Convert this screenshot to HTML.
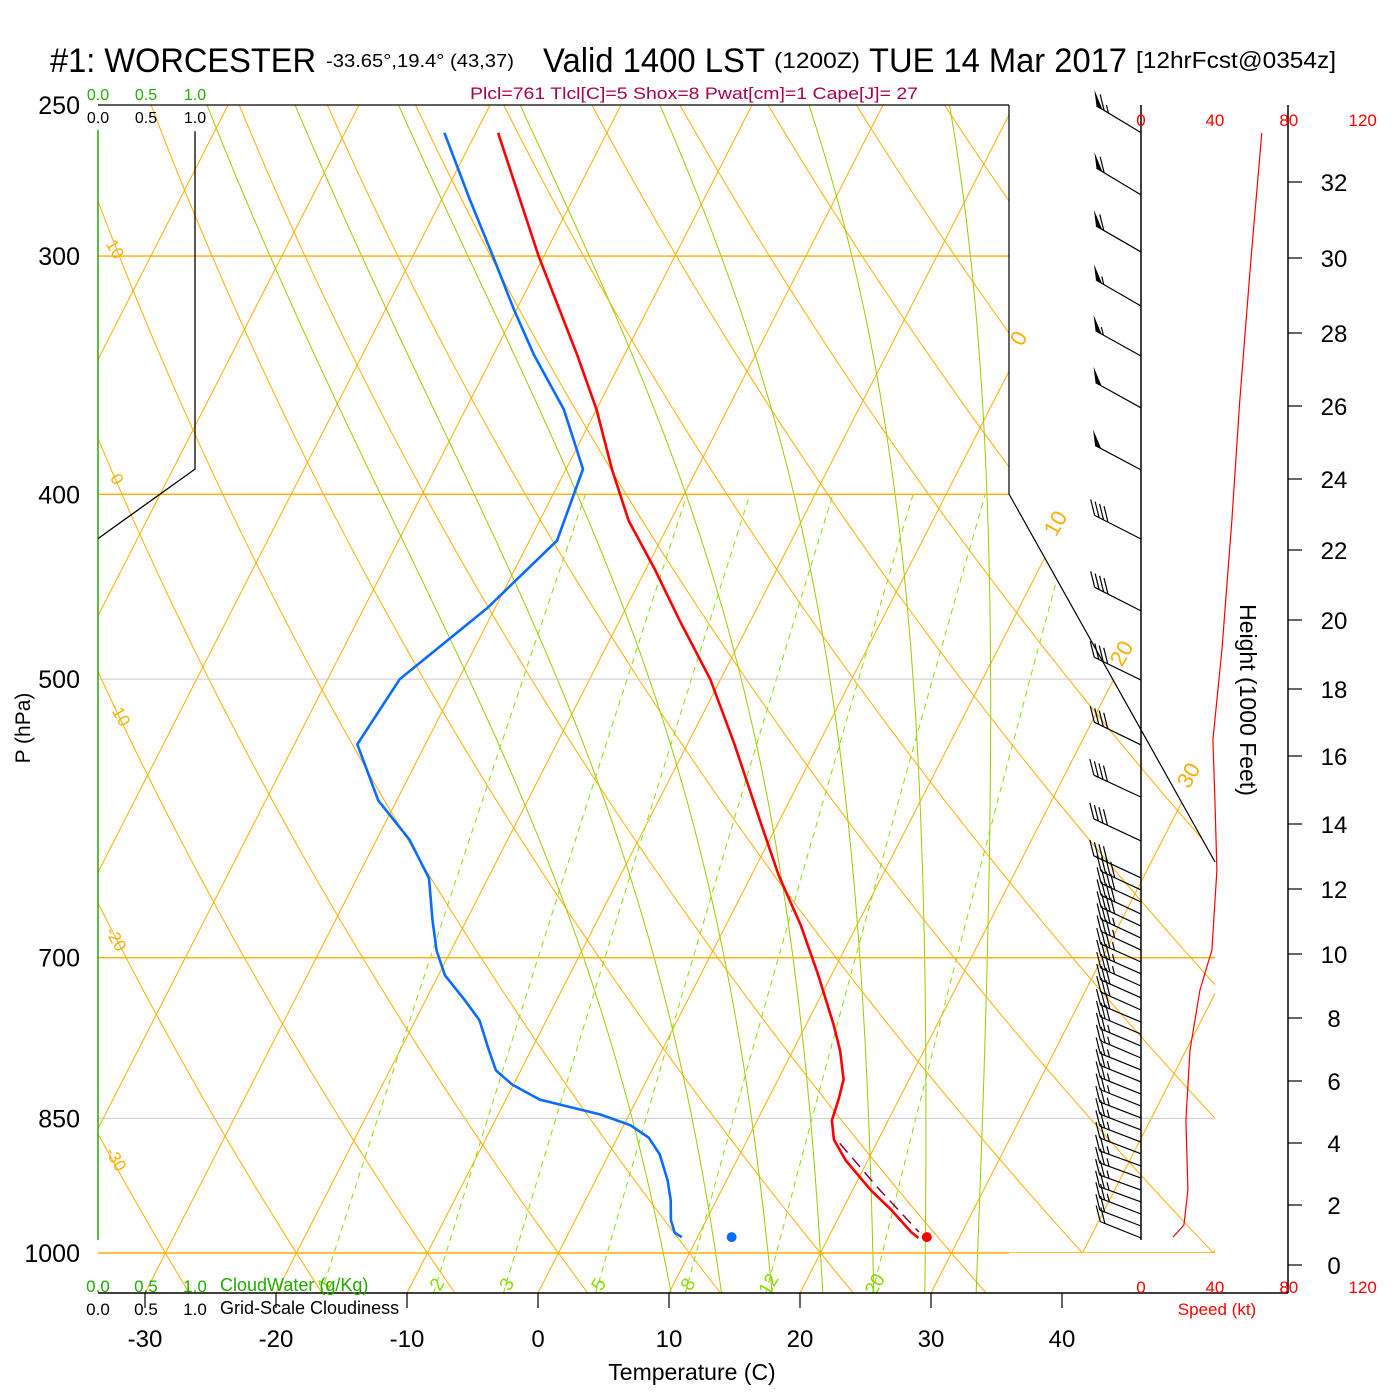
<!DOCTYPE html>
<html><head><meta charset="utf-8"><style>
html,body{margin:0;padding:0;background:#fff}
svg{display:block;font-family:"Liberation Sans",sans-serif}
</style></head><body>
<svg id="c" width="1400" height="1400" viewBox="0 0 1400 1400" xmlns="http://www.w3.org/2000/svg">
<defs><clipPath id="clp"><polygon points="98,105 1009,105 1009,494 1215,862 1215,1253 1009,1253 1009,1293 98,1293"/></clipPath></defs>
<g id="bg" clip-path="url(#clp)"></g>
<g id="fg"></g>
<g>
<text x="50" y="72" font-size="34" textLength="266" lengthAdjust="spacingAndGlyphs">#1: WORCESTER</text>
<text x="326" y="67" font-size="18" textLength="188" lengthAdjust="spacingAndGlyphs">-33.65°,19.4° (43,37)</text>
<text x="543" y="72" font-size="34" textLength="222" lengthAdjust="spacingAndGlyphs">Valid 1400 LST</text>
<text x="774" y="68" font-size="22" textLength="86" lengthAdjust="spacingAndGlyphs">(1200Z)</text>
<text x="869" y="72" font-size="34" textLength="258" lengthAdjust="spacingAndGlyphs">TUE 14 Mar 2017</text>
<text x="1136" y="68" font-size="23" textLength="200" lengthAdjust="spacingAndGlyphs">[12hrFcst@0354z]</text>
<text x="470" y="99" font-size="17" fill="#a8004a" textLength="448" lengthAdjust="spacingAndGlyphs">Plcl=761 Tlcl[C]=5 Shox=8 Pwat[cm]=1 Cape[J]= 27</text>
</g>
</svg>
<script>
// ---- data ----
const tempP = [258.5,300,338,361,388,413,438,466,500,541,593,634,673,715,759,783,811,831,852,872,894,927,949,975,982];
const tempC = [-48.3,-40.4,-33.6,-30.0,-26.5,-23.2,-19.3,-15.4,-10.8,-6.4,-1.5,2.1,5.7,9.0,12.1,13.6,15.0,15.4,15.7,16.6,18.3,21.4,23.7,26.1,26.9];
const dewP = [258.5,280,301,320,338,361,388,423,459,500,541,579,607,636,669,694,715,737,755,783,802,816,831,846,857,870,888,916,938,961,976,981];
const dewC = [-52.4,-47.9,-43.7,-40.2,-36.9,-32.5,-28.7,-27.9,-30.6,-34.5,-35.2,-31.4,-27.5,-24.5,-22.6,-21.1,-19.5,-17.0,-15.1,-13.2,-11.9,-10.1,-7.4,-2.2,0.5,2.4,3.9,5.5,6.5,7.3,8.1,8.8];
const parcelP = [876,927,975];
const parcelC = [17.2,22.1,26.7];
const sfcP = 981, sfcT = 27.5, sfcTd = 12.6;
const cloudP = [258,388,422];
const cloudF = [1,1,0];
const barbH = [33.3,31.66,30.16,28.72,27.37,25.95,24.25,22.31,20.26,18.26,16.33,14.79,13.48,12.34,11.97,11.60,11.23,10.86,10.49,10.12,9.75,9.38,9.0,8.63,8.25,7.87,7.49,7.11,6.73,6.35,5.97,5.58,5.19,4.81,4.42,4.03,3.65,3.26,2.87,2.48,2.10,1.70,1.30,0.90];
const barbSpd = [65,60,60,55,55,50,50,40,40,40,40,40,40,40,40,40,40,40,35,35,35,35,35,30,30,30,30,25,25,25,25,25,25,25,25,25,25,25,25,25,25,25,20,20];
const barbAng = [31,31,30,30,29,29,28,27,27,26,26,25,25,25,25,25,25,25,25,25,24,24,24,24,24,23,23,23,23,22,22,22,22,21,21,21,21,20,20,20,20,21,21,22];
const spdH = [33.29,29.95,26.16,22.85,19.13,16.48,14.71,12.58,10.12,8.87,6.98,4.74,2.48,1.33,0.93];
const spdV = [65.4,59.5,53.5,49.2,43.8,38.9,40,41.1,38.4,31.9,26.5,24.3,25.4,23.2,17.3];
const tempTicks = [-30,-20,-10,0,10,20,30,40];
const presTicks = [250,300,400,500,700,850,1000];
const hgtTicks = [0,2,4,6,8,10,12,14,16,18,20,22,24,26,28,30,32];
const mixW = [1,2,3,5,8,12,20];
const moistTw = [8,12,16,20,24,28,32];
const spdTicks = [0,40,80,120];
// ---- axes ----
const X0=538, XS=13.1, SK=0.511, YB=1293;
function py(p){return 1253-828*Math.log(1000/p);}
function tx(t,p){return X0+XS*t+SK*(YB-py(p));}
// height axis calibration (standard-atmosphere spacing)
const HCAL=[1265,1205,1143,1081,1018,954,889,824,756,689,620,550,479,406,333,258,182];
function hy(h){const k=h/2;let i=Math.floor(k);if(i<0)i=0;if(i>15)i=15;const f=k-i;return HCAL[i]+(HCAL[i+1]-HCAL[i])*f;}
function sx(v){return 1141+v*1.8475;}
const NS='http://www.w3.org/2000/svg';
const bg=document.getElementById('bg'), fg=document.getElementById('fg');
function el(tag,attrs,parent){const e=document.createElementNS(NS,tag);for(const k in attrs)e.setAttribute(k,attrs[k]);parent.appendChild(e);return e;}
function path(pts){return 'M'+pts.map(q=>q[0].toFixed(1)+','+q[1].toFixed(1)).join('L');}
const OR='#ffae00', GR='#99cc00', GD='#88dd00';
for(let t=-130;t<=50;t+=10){
  const e=el('line',{x1:tx(t,1050),y1:py(1050),x2:tx(t,250),y2:py(250),stroke:OR,'stroke-width':1},bg);
  
  
}
for(let th=-60;th<=200;th+=10){
  const pts=[];for(let p=1060;p>=240;p-=10){const T=(th+273.15)*Math.pow(p/1000,0.2857)-273.15;pts.push([tx(T,p),py(p)]);}
  const e=el('path',{d:path(pts),fill:'none',stroke:OR,'stroke-width':1},bg);
  
  
}
function es(tc){return 6.112*Math.exp(17.67*tc/(tc+243.5));}
function dTdp(T,p){const e=es(T-273.15);const rs=0.622*e/(p-e);const Lv=2.5e6,Rd=287,cp=1005;
  return (Rd*T+Lv*rs)/(p*(cp+Lv*Lv*rs*0.622/(Rd*T*T)));}
moistTw.forEach(tw=>{
  let pts=[];let T=tw+273.15,p=1000;
  const dn=[];let Td=T,pd=1000;while(pd<1050){Td+=dTdp(Td,pd)*2;pd+=2;dn.push([tx(Td-273.15,pd),py(pd)]);}
  pts=dn.reverse();pts.push([tx(tw,1000),py(1000)]);
  while(p>250){const k1=dTdp(T,p);const Tm=T-k1*1;const k2=dTdp(Tm,p-1);T-=(k1+k2)/2*2;p-=2;pts.push([tx(T-273.15,p),py(p)]);}
  const e=el('path',{d:path(pts),fill:'none',stroke:GR,'stroke-width':1},bg);
  
  
});
function tdw(w,p){const e=w*p/(622+w);const l=Math.log(e/6.112);return 243.5*l/(17.67-l);}
mixW.forEach(w=>{
  const pts=[];for(let p=1050;p>=400;p-=10)pts.push([tx(tdw(w,p),p),py(p)]);
  const e=el('path',{d:path(pts),fill:'none',stroke:GD,'stroke-width':1,'stroke-dasharray':'6,5'},bg);
  
  
  const lx=tx(tdw(w,1030),1030)+4, ly=py(1030)+10;
  const t=el('text',{x:lx,y:ly,'font-size':19,fill:GD,transform:`rotate(-60 ${lx} ${ly})`,'text-anchor':'middle'},bg);
  t.textContent=w;
  
  
});
presTicks.forEach(p=>{
  if(p===250)return;
  const gray=(p===500||p===850);
  const e=el('line',{x1:98,y1:py(p),x2:1215,y2:py(p),stroke:gray?'#c8c8c8':OR,'stroke-width':gray?1:1.4},bg);
  
  
});
[[1025,342,'0'],[1062,527,'10'],[1128,657,'20'],[1195,779,'30']].forEach(a=>{
  const t=el('text',{x:a[0],y:a[1],'font-size':22,fill:OR,'text-anchor':'middle',transform:`rotate(-60 ${a[0]} ${a[1]})`},fg);t.textContent=a[2];
  
  
});
[[110,252,'10'],[112,482,'0'],[115,717,'-10'],[111,942,'-20'],[111,1162,'-30']].forEach(a=>{
  const t=el('text',{x:a[0],y:a[1],'font-size':17,fill:OR,'text-anchor':'middle',transform:`rotate(60 ${a[0]} ${a[1]})`},fg);t.textContent=a[2];
  
  
});
function ln(x1,y1,x2,y2,c,n,w){const e=el('line',{x1,y1,x2,y2,stroke:c,'stroke-width':w||1.2},fg);return e;}
ln(98,105,1009,105,'#000','top-border');
ln(1009,105,1009,494,'#000','right-border');
ln(1009,494,1215,862,'#000','wind-box-diagonal');
ln(98,1293,1288,1293,'#000','bottom-axis',1.5);
ln(98,130,98,1240,'#22aa00','cloudwater-axis',1.5);
ln(1141,105,1141,1240,'#000','wind-staff-axis',1.5);
ln(1288,105,1288,1293,'#000','height-axis',1.5);
tempTicks.forEach(t=>{
  const x=X0+XS*t;
  ln(x,1293,x,1308,'#000','temp-tick');
  const e=el('text',{x:x,y:1347,'font-size':24,'text-anchor':'middle'},fg);e.textContent=t;
  
  
});
presTicks.forEach(p=>{
  const e=el('text',{x:80,y:py(p)+9,'font-size':25,'text-anchor':'end'},fg);e.textContent=p;
  
  
});
hgtTicks.forEach(h=>{
  ln(1288,hy(h),1302,hy(h),'#000','height-tick');
  const e=el('text',{x:1334,y:hy(h)+9,'font-size':24,'text-anchor':'middle'},fg);e.textContent=h;
  
  
});
spdTicks.forEach(v=>{
  [126,1293].forEach(y=>{
    const e=el('text',{x:sx(v),y:y,'font-size':17,fill:'#f00','text-anchor':'middle'},fg);e.textContent=v;
    
    
  });
});
function txt(x,y,s,fs,c,n,anchor,tr){const e=el('text',{x,y,'font-size':fs,fill:c||'#000','text-anchor':anchor||'start'},fg);if(tr)e.setAttribute('transform',tr);e.textContent=s;return e;}
[['0.0',98],['0.5',146],['1.0',195]].forEach(a=>{
  txt(a[1],100,a[0],16,'#22aa00','cloudwater-scale','middle');
  txt(a[1],123,a[0],16,'#000','cloudiness-scale','middle');
  txt(a[1],1292,a[0],17,'#22aa00','cloudwater-scale','middle');
  txt(a[1],1315,a[0],17,'#000','cloudiness-scale','middle');
});
txt(220,1291,'CloudWater (g/Kg)',18,'#22aa00','cloudwater-title');
txt(220,1314,'Grid-Scale Cloudiness',18,'#000','cloudiness-title');
txt(1217,1315,'Speed (kt)',17,'#f00','speed-axis-title','middle');
txt(692,1380,'Temperature (C)',23,'#000','x-axis-title','middle');
txt(30,728,'P (hPa)',21,'#000','y-axis-title','middle','rotate(-90 30 728)');
txt(1240,700,'Height (1000 Feet)',23,'#000','height-axis-title','middle','rotate(90 1240 700)');
{const e=el('path',{d:path(cloudP.map((p,i)=>[98+cloudF[i]*97,py(p)])),fill:'none',stroke:'#000','stroke-width':1.3},fg);

}
{const e=el('path',{d:path(spdH.map((h,i)=>[sx(spdV[i]),hy(h)])),fill:'none',stroke:'#f00','stroke-width':1.2},fg);

}
barbH.forEach((h,i)=>{
  const g=el('g',{},fg);
  
  
  const a=barbAng[i]*Math.PI/180, L=(i<14)?52:44;
  const ax=1141, ay=hy(h), ux=-Math.cos(a), uy=-Math.sin(a);
  const tX=ax+ux*L, tY=ay+uy*L;
  el('line',{x1:ax,y1:ay,x2:tX,y2:tY,stroke:'#000','stroke-width':1.2},g);
  let s=Math.round(barbSpd[i]/5)*5, pos=0;
  while(s>=50){const b1x=tX-ux*pos,b1y=tY-uy*pos,b2x=tX-ux*(pos+7),b2y=tY-uy*(pos+7);
    el('polygon',{points:`${b1x},${b1y} ${b2x},${b2y} ${b1x-2},${b1y-16}`,fill:'#000'},g);s-=50;pos+=9;}
  while(s>=10){const bx=tX-ux*pos,by=tY-uy*pos;el('line',{x1:bx,y1:by,x2:bx-4,y2:by-16,stroke:'#000','stroke-width':1.2},g);s-=10;pos+=5;}
  if(s>=5){if(pos===0)pos=5;const bx=tX-ux*pos,by=tY-uy*pos;el('line',{x1:bx,y1:by,x2:bx-2,y2:by-8,stroke:'#000','stroke-width':1.2},g);}
});
{const e=el('path',{d:path(parcelP.map((p,i)=>[tx(parcelC[i],p),py(p)])),fill:'none',stroke:'#800040','stroke-width':1.5,'stroke-dasharray':'12,7'},fg);

}
{const e=el('path',{d:path(dewP.map((p,i)=>[tx(dewC[i],p),py(p)])),fill:'none',stroke:'#0a6cff','stroke-width':2.6},fg);

}
{const e=el('path',{d:path(tempP.map((p,i)=>[tx(tempC[i],p),py(p)])),fill:'none',stroke:'#f00','stroke-width':2.6},fg);

}
{const e=el('circle',{cx:tx(sfcT,sfcP),cy:py(sfcP),r:5,fill:'#f00'},fg);

}
{const e=el('circle',{cx:tx(sfcTd,sfcP),cy:py(sfcP),r:5,fill:'#0a6cff'},fg);

}
</script>
</body></html>
